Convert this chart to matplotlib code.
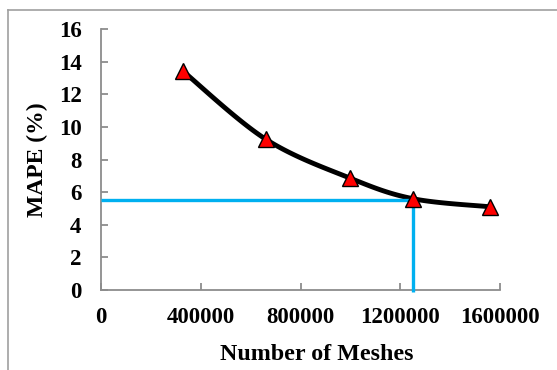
import numpy as np
import matplotlib
matplotlib.use("Agg")
import matplotlib.pyplot as plt
from matplotlib.lines import Line2D

# Data
meshes = [330000, 660000, 1000000, 1250000, 1560000]
mape = [13.4, 9.25, 6.85, 5.6, 5.1]
sel_mesh = 1250000
sel_mape = 5.5
xticks = [0, 400000, 800000, 1200000, 1600000]
yticks = [0, 2, 4, 6, 8, 10, 12, 14, 16]

plt.rcParams['font.family'] = ['Liberation Serif', 'DejaVu Serif']
plt.rcParams['font.weight'] = 'bold'

fig = plt.figure(figsize=(5.57, 3.70), dpi=100)
ax = fig.add_axes([0.1813, 0.2162, 0.7164, 0.7054])

# Catmull-Rom smoothing (as Excel smoothed line)
def smooth(xs, ys, n=30):
    P = np.column_stack([xs, ys]).astype(float)
    P = np.vstack([P[0], P, P[-1]])
    out = []
    for i in range(1, len(P) - 2):
        p0, p1, p2, p3 = P[i-1], P[i], P[i+1], P[i+2]
        t = np.linspace(0, 1, n)[:, None]
        c = 0.5 * ((2*p1) + (-p0 + p2)*t + (2*p0 - 5*p1 + 4*p2 - p3)*t**2 + (-p0 + 3*p1 - 3*p2 + p3)*t**3)
        out.append(c)
    c = np.vstack(out)
    return c[:, 0], c[:, 1]

sx, sy = smooth(meshes, mape)
ax.plot(sx, sy, color='black', lw=3.5, solid_capstyle='round', zorder=3)

# Selection lines
ax.plot([0, sel_mesh], [sel_mape, sel_mape], color='#00B0F0', lw=2.4, zorder=4, solid_capstyle='butt')
ax.plot([sel_mesh, sel_mesh], [sel_mape, -0.15], color='#00B0F0', lw=2.4, zorder=4,
        clip_on=False, solid_capstyle='butt')

ax.plot(meshes, mape, linestyle='none', marker='^', markersize=12, markerfacecolor='#FF0000',
        markeredgecolor='black', markeredgewidth=1.0, zorder=5)

ax.set_xlim(0, 1600000)
ax.set_ylim(0, 16)
ax.set_xticks(xticks)
ax.set_xticklabels([str(v) for v in xticks])
ax.set_yticks(yticks)
ax.set_yticklabels([str(v) for v in yticks])

for s in ['top', 'right']:
    ax.spines[s].set_visible(False)
for s in ['left', 'bottom']:
    ax.spines[s].set_color('#8c8c8c')
    ax.spines[s].set_linewidth(1.3)

ax.tick_params(axis='both', direction='in', length=5, width=1.3, color='#8c8c8c',
               labelsize=16.5, labelcolor='black')
ax.tick_params(axis='y', pad=14)
ax.tick_params(axis='x', pad=12)
for lab in ax.get_xticklabels() + ax.get_yticklabels():
    lab.set_fontweight('bold')

ax.set_xlabel('Number of Meshes', fontsize=17.3, fontweight='bold', labelpad=11)
ax.xaxis.set_label_coords(0.541, -0.207)
ax.xaxis.label.set_va('top')
ax.set_ylabel('MAPE (%)', fontsize=17, fontweight='bold', labelpad=8)

# Outer chart border (left and top visible)
W, H = 557, 370
fig.add_artist(Line2D([8/W, 8/W], [0, 1 - 10/H], color='#a0a0a0', lw=1.2, transform=fig.transFigure))
fig.add_artist(Line2D([8/W, 1], [1 - 10/H, 1 - 10/H], color='#a0a0a0', lw=1.2, transform=fig.transFigure))

fig.savefig('out.png', dpi=100)
